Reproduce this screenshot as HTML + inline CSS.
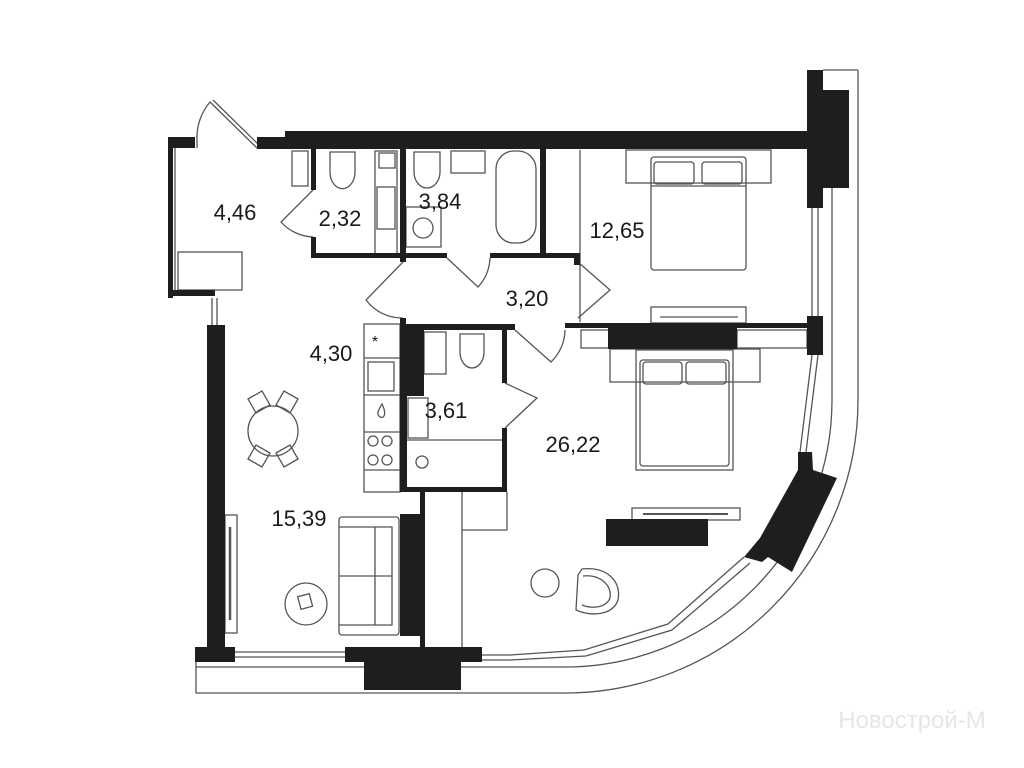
<!DOCTYPE html>
<html><head><meta charset="utf-8"><style>
html,body{margin:0;padding:0;background:#fff;}
svg{display:block}
text{font-family:"Liberation Sans",sans-serif;font-size:22px;fill:#1a1a1a;text-anchor:middle}
</style></head><body>
<svg width="1024" height="768" viewBox="0 0 1024 768" xmlns="http://www.w3.org/2000/svg">
<g fill="none" stroke="#555" stroke-width="1.3">
<!-- outer curve lines -->
<path d="M858 70 V400 A293 293 0 0 1 565 693 H196 V662"/>
<path d="M832 188 V400 A267 267 0 0 1 565 667 H196"/>
<path d="M823 70 H858"/>
<!-- window right -->
<path d="M812 208 V316 M818 208 V316"/>
<path d="M812 355 L800 452 M818 355 L806 452"/>
<path d="M744 557 L668 624 L584 650 L510 655 L482 655 M750 563 L672 630 L586 656 L510 660 L482 660"/>
<path d="M235 652 H345 M235 657 H345"/>
<!-- left wall double -->
<path d="M175 148 V292"/>
<path d="M212 298 V325 M217 298 V325"/>
<rect x="178" y="252" width="64" height="38"/>
<!-- entry door -->
<path d="M197 148 V140 A55 55 0 0 1 210 102 L257 148"/>
<path d="M213 100 L260 146"/>
<!-- toilet 2.32 door -->
<path d="M313 190 L281 222 A45 45 0 0 0 313 237"/>
<!-- hallway doors -->
<path d="M403 262 L366 300 A45 45 0 0 0 403 318"/>
<path d="M447 258 L478 287 A45 45 0 0 0 490 258"/>
<path d="M578 262 L610 290 L578 318"/>
<path d="M515 330 L551 362 A45 45 0 0 0 565 330"/>
<path d="M505 383 L537 398 L505 428"/>
<!-- fixtures 2.32 -->
<rect x="292" y="151" width="16" height="35"/>
<path d="M330 152 H355 V172 A12 16 0 0 1 330 172 Z"/>
<rect x="375" y="151" width="22" height="105"/>
<rect x="377" y="187" width="18" height="42"/>
<rect x="379" y="153" width="16" height="15"/>
<!-- 3.84 -->
<path d="M414 152 H440 V172 A13 16 0 0 1 414 172 Z"/>
<rect x="451" y="151" width="34" height="22"/>
<rect x="406" y="207" width="35" height="40"/>
<circle cx="423" cy="228" r="10"/>
<rect x="496" y="151" width="40" height="92" rx="18"/>
<!-- bedroom 1 -->
<line x1="580" y1="150" x2="580" y2="322"/>
<rect x="626" y="150" width="145" height="33"/>
<rect x="651" y="157" width="95" height="113" rx="3"/>
<rect x="654" y="162" width="40" height="22" rx="3"/>
<rect x="702" y="162" width="40" height="22" rx="3"/>
<line x1="651" y1="186" x2="746" y2="186"/>
<rect x="651" y="307" width="95" height="16"/>
<path d="M660 317 H738"/>
<!-- 3.61 -->
<rect x="424" y="332" width="22" height="42"/>
<path d="M460 334 H484 V352 A12 16 0 0 1 460 352 Z"/>
<rect x="408" y="398" width="20" height="40"/>
<line x1="407" y1="440" x2="502" y2="440"/>
<circle cx="422" cy="462" r="6"/>
<!-- kitchen -->
<rect x="364" y="324" width="36" height="168"/>
<path d="M364 358 H400 M364 395 H400 M364 432 H400 M364 470 H400"/>
<rect x="368" y="362" width="26" height="29"/>
<circle cx="373" cy="441" r="5"/><circle cx="387" cy="441" r="5"/>
<circle cx="373" cy="460" r="5"/><circle cx="387" cy="460" r="5"/>
<path d="M382 404 C378 411 376 414 380 417 C384 419 387 414 382 404Z"/>
<!-- dining -->
<circle cx="273" cy="431" r="25"/>
<path d="M248 399 L262 391 L270 405 L256 413 Z M298 399 L284 391 L276 405 L290 413 Z M248 459 L262 467 L270 453 L256 445 Z M298 459 L284 467 L276 453 L290 445 Z"/>
<!-- living -->
<rect x="225" y="515" width="12" height="118"/>
<line x1="230" y1="527" x2="230" y2="620" stroke-width="2.5"/>
<rect x="339" y="517" width="60" height="118" rx="3"/>
<path d="M339 527 H392 V625 H339 M375 527 V625 M339 576 H392"/>
<circle cx="306" cy="604" r="21"/>
<rect x="299" y="595" width="12" height="13" transform="rotate(-15 305 601)"/>
<!-- wardrobe -->
<path d="M462 492 V647 M462 530 H507 V492"/>
<!-- bedroom 2 -->
<rect x="581" y="330" width="29" height="18"/>
<rect x="737" y="330" width="70" height="18"/>
<rect x="610" y="349" width="150" height="33"/>
<rect x="636" y="350" width="97" height="120"/>
<rect x="640" y="360" width="89" height="106" rx="3"/>
<rect x="643" y="362" width="39" height="22" rx="3"/>
<rect x="686" y="362" width="40" height="22" rx="3"/>
<rect x="632" y="508" width="108" height="12"/>
<line x1="643" y1="514" x2="728" y2="514" stroke-width="2"/>
<circle cx="545" cy="583" r="14"/>
<path d="M578 575 L582 569 C605 566 622 580 618 600 C613 615 592 617 576 610 Z M583 576 C600 574 612 585 610 598 C606 608 592 609 582 605"/>
</g>
<g fill="#1e1e1e">
<rect x="285" y="131" width="523" height="18"/>
<rect x="257" y="137" width="30" height="12"/>
<rect x="168" y="137" width="27" height="11"/>
<rect x="807" y="70" width="16" height="138"/>
<rect x="807" y="90" width="42" height="98"/>
<rect x="807" y="316" width="16" height="39"/>
<rect x="168" y="137" width="5" height="161"/>
<rect x="168" y="290" width="47" height="6"/>
<rect x="207" y="325" width="18" height="337"/>
<rect x="195" y="647" width="40" height="15"/>
<rect x="345" y="647" width="137" height="15"/>
<rect x="364" y="647" width="97" height="43"/>
<rect x="311" y="149" width="5" height="41"/>
<rect x="311" y="237" width="5" height="21"/>
<rect x="311" y="253" width="94" height="5"/>
<rect x="400" y="149" width="6" height="113"/>
<rect x="405" y="253" width="42" height="5"/>
<rect x="490" y="253" width="90" height="5"/>
<rect x="540" y="149" width="6" height="107"/>
<rect x="574" y="253" width="6" height="12"/>
<rect x="400" y="318" width="6" height="8"/>
<rect x="400" y="324" width="115" height="6"/>
<rect x="400" y="324" width="24" height="72"/>
<rect x="400" y="395" width="7" height="97"/>
<rect x="400" y="487" width="107" height="5"/>
<rect x="502" y="324" width="5" height="59"/>
<rect x="502" y="428" width="5" height="64"/>
<rect x="420" y="490" width="5" height="157"/>
<rect x="400" y="514" width="22" height="122"/>
<rect x="565" y="323" width="242" height="5"/>
<rect x="608" y="325" width="129" height="24"/>
<rect x="606" y="519" width="102" height="27"/>
<polygon points="798,452 812,452 813,470 837,478 792,572 768,557 762,562 744,557 760,538 798,470"/>
</g>
<text x="235" y="220">4,46</text>
<text x="340" y="226">2,32</text>
<text x="440" y="209">3,84</text>
<text x="617" y="238">12,65</text>
<text x="527" y="306">3,20</text>
<text x="331" y="361">4,30</text>
<text x="446" y="418">3,61</text>
<text x="573" y="452">26,22</text>
<text x="299" y="526">15,39</text>
<text x="375" y="347" style="font-size:16px">*</text>
<text x="912" y="728" style="font-size:24px;fill:#e6e6e6">Новострой-М</text>
</svg>
</body></html>
